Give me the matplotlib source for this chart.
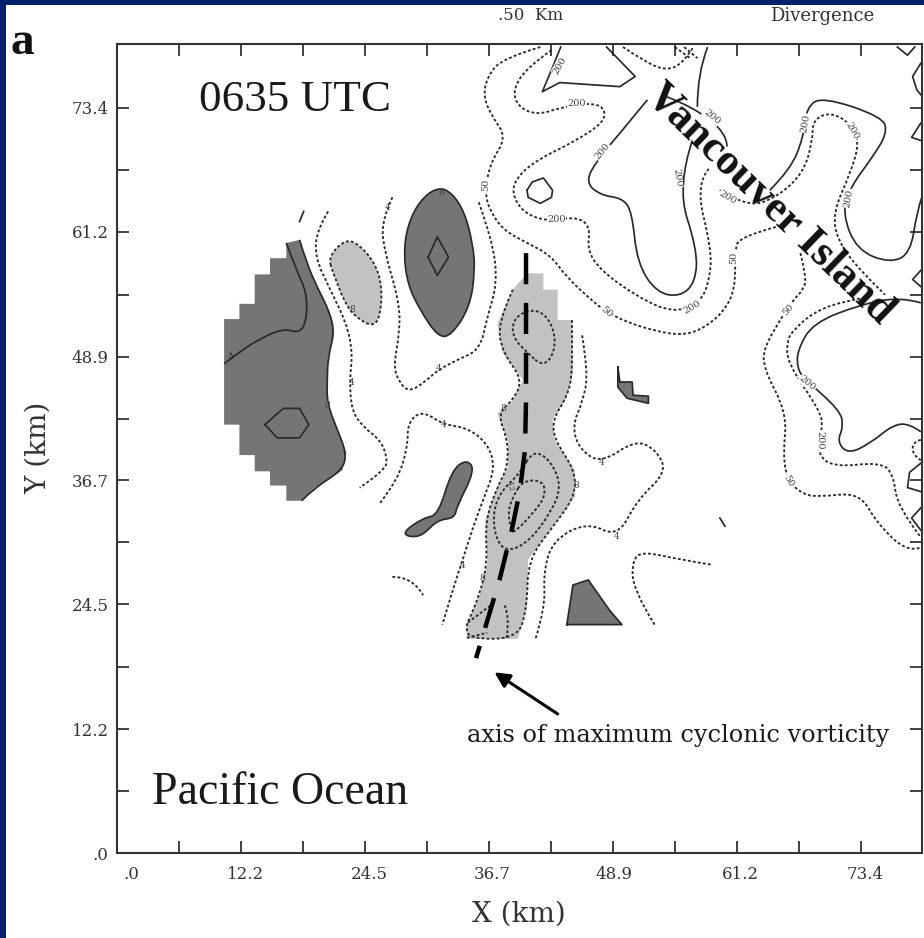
import numpy as np
import matplotlib
matplotlib.use("Agg")
import matplotlib.pyplot as plt
from matplotlib.patches import PathPatch, Rectangle
from matplotlib.path import Path
from matplotlib.transforms import ScaledTranslation

# ticks (km)
x_ticks = [0, 6.08, 12.16, 18.24, 24.32, 30.4, 36.48, 42.56, 48.64, 54.72, 60.8, 66.88, 72.96]
x_labels = [".0", "", "12.2", "", "24.5", "", "36.7", "", "48.9", "", "61.2", "", "73.4"]
y_ticks = [0, 6.1, 12.2, 18.3, 24.5, 30.6, 36.7, 42.8, 48.9, 55.0, 61.2, 67.3, 73.4]
y_labels = [".0", "", "12.2", "", "24.5", "", "36.7", "", "48.9", "", "61.2", "", "73.4"]

# shaded regions, digitised in km
dark_west = [(16.6, 60.1), (17.9, 60.4), (18.6, 58.1), (19.6, 55.8), (20.9, 53.2), (21.3, 51.2), (20.7, 48.9),
             (20.6, 46.6), (20.6, 44.3), (21.6, 41.7), (22.5, 39.4), (22.1, 37.7), (19.4, 36.0), (18.1, 34.7),
             (16.6, 34.7), (16.6, 36.2), (15.0, 36.2), (15.0, 37.6), (13.5, 37.6), (13.5, 39.2), (12.0, 39.2),
             (12.0, 40.7), (12.0, 42.2), (10.5, 42.2), (10.5, 52.6), (12.0, 52.6), (12.0, 54.1), (13.5, 54.1),
             (13.5, 57.0), (15.0, 57.0), (15.0, 58.6), (16.6, 58.6)]
dark_oval = [(28.1, 59.1), (28.5, 61.9), (29.7, 64.3), (31.4, 65.6), (32.8, 65.1), (34.1, 63.1), (34.9, 59.9),
             (35.1, 57.4), (34.6, 53.8), (32.8, 51.0), (31.5, 50.8), (29.7, 53.5), (28.5, 56.0)]
dark_mid = [(28.0, 31.6), (30.0, 33.0), (31.5, 33.3), (32.8, 37.7), (34.3, 38.8), (35.1, 37.7), (33.3, 34.1),
            (33.1, 33.0), (31.4, 32.8), (30.0, 31.3), (28.7, 31.1)]
dark_south = [(44.1, 22.5), (44.7, 26.4), (46.2, 26.9), (48.3, 23.9), (49.5, 22.5)]
dark_east = [(49.1, 47.9), (49.1, 45.9), (50.0, 44.8), (52.1, 44.3), (52.1, 45.0), (50.6, 45.1), (50.5, 46.4),
             (49.3, 46.4)]
light_oval = [(20.7, 58.7), (22.4, 60.5), (23.8, 59.9), (25.3, 58.1), (26.0, 55.8), (25.8, 52.8), (25.1, 51.9),
              (23.8, 52.5), (22.5, 53.8), (21.2, 57.1)]
light_axis = [(38.8, 55.5), (40.2, 57.1), (41.8, 57.1), (41.8, 55.5), (43.2, 55.5), (43.2, 52.5), (44.6, 52.5),
              (44.7, 47.3), (44.1, 44.9), (42.7, 42.7), (42.9, 40.7), (44.9, 37.7), (44.9, 35.1), (42.7, 32.1),
              (40.3, 28.9), (40.2, 24.2), (39.3, 21.1), (34.3, 21.1), (34.3, 22.7), (34.4, 22.7), (35.6, 25.6),
              (36.3, 28.6), (36.1, 32.8), (37.3, 36.1), (38.3, 38.0), (38.3, 40.7), (37.3, 43.3), (38.8, 44.6),
              (39.8, 46.6), (37.8, 49.3), (37.3, 52.2)]

# solid contours
solid_west = [(10.5, 48.2), (11.8, 49.2), (13.7, 50.5), (16.3, 51.7), (17.9, 51.2), (18.6, 52.5), (18.6, 55.2),
              (17.6, 57.4), (16.6, 60.1)]
solid_west_edge = dark_west[1:14]
solid_west_box = [(14.5, 42.2), (16.3, 43.8), (17.9, 43.8), (18.8, 42.2), (17.9, 40.9), (15.7, 40.9), (14.8, 41.9),
                  (14.5, 42.2)]
solid_oval_in = [(30.5, 58.7), (31.4, 60.7), (32.5, 58.7), (31.4, 56.9), (30.5, 58.7)]
solid_tick = [(17.9, 62.2), (18.3, 63.2)]
solid_speck = [(59.1, 33.0), (59.6, 32.2)]
solid_land_a = [(52.0, 74.2), (49.3, 70.9), (47.1, 68.3), (45.9, 66.1), (47.4, 64.8), (49.6, 64.5), (50.5, 63.1),
                (51.0, 58.1), (52.9, 55.2), (55.2, 54.8), (56.7, 56.2), (56.9, 59.4), (54.9, 65.6), (56.4, 70.2)]
solid_land_b = [(53.9, 74.5), (56.5, 73.5), (59.8, 70.9), (59.8, 69.6)]
solid_land_c = [(57.9, 79.4), (56.9, 76.8), (56.9, 73.5)]
solid_land_d = [(64.0, 65.3), (66.0, 67.3), (67.3, 70.5), (67.6, 73.5), (69.2, 74.5), (75.1, 72.5), (75.5, 70.9),
                (74.1, 68.6), (71.9, 65.6), (71.1, 63.1), (72.5, 59.4), (75.8, 58.1), (77.8, 59.1), (78.4, 63.1),
                (78.9, 64.6)]
solid_land_e = [(78.8, 54.2), (76.8, 54.8), (72.8, 54.0), (68.2, 52.2), (66.7, 49.5), (66.7, 47.8), (67.3, 46.8),
                (70.9, 43.6), (71.2, 42.0), (70.6, 40.5), (71.7, 39.3), (73.9, 40.4), (76.1, 42.2), (77.7, 42.3),
                (78.8, 41.5)]
solid_top_v = [(48.0, 79.4), (50.8, 76.5), (49.3, 75.5), (43.4, 75.9), (41.7, 75.0), (42.7, 77.4), (43.5, 79.4)]
solid_hex = [(40.2, 65.3), (40.7, 66.1), (41.8, 66.5), (42.7, 65.3), (42.6, 64.6), (41.5, 64.0), (40.3, 64.6),
             (40.2, 65.3)]
solid_edge_a = [(78.8, 77.8), (78.0, 76.5), (78.4, 75.2), (78.8, 74.7)]
solid_edge_b = [(78.8, 71.9), (77.9, 70.5), (78.8, 70.2)]
solid_edge_c = [(76.5, 79.4), (77.5, 78.6), (78.2, 79.4)]
solid_edge_d = [(78.8, 38.4), (77.7, 37.5), (77.5, 36.0), (78.8, 35.6)]
solid_edge_e = [(78.8, 34.0), (77.9, 33.0), (78.8, 31.8)]
solid_edge_f = [(78.8, 57.4), (78.0, 56.5), (78.8, 55.8)]

# dashed contours
dash_b = [(20.7, 63.2), (19.6, 61.4), (19.4, 58.7), (20.9, 55.5), (22.5, 52.2), (23.1, 49.3), (22.8, 46.6),
          (23.0, 43.6), (24.1, 42.0), (25.8, 40.7), (26.5, 39.0), (26.3, 37.7), (23.8, 36.0)]
dash_c = [(27.0, 64.6), (26.0, 62.4), (26.1, 59.7), (27.7, 54.2), (27.7, 51.2), (27.1, 47.9), (27.7, 46.3),
          (28.7, 45.4), (30.4, 46.6), (31.5, 47.6), (33.4, 48.6), (35.6, 49.6), (36.3, 52.8), (37.3, 56.2),
          (36.8, 60.4), (35.4, 64.3)]
dash_d = [(25.8, 34.5), (27.5, 36.7), (28.5, 40.0), (28.5, 42.4), (29.9, 43.6), (32.0, 42.2), (34.3, 41.9),
          (36.3, 40.4), (37.1, 38.0), (35.9, 34.8), (34.9, 32.1), (33.9, 28.9), (32.9, 25.9), (31.9, 22.5)]
dash_short = [(27.0, 27.2), (29.0, 27.2), (30.0, 25.4)]
dash_e = [(41.8, 47.9), (42.9, 49.3), (42.9, 51.5), (41.8, 53.3), (40.2, 53.5), (38.8, 52.5), (38.8, 50.8),
          (40.2, 49.3)]
dash_f = [(40.8, 39.7), (42.5, 38.7), (43.6, 36.1), (42.5, 33.5), (40.5, 30.8), (38.5, 29.7), (37.3, 30.5),
          (36.8, 33.1), (37.5, 35.5), (39.5, 37.4)]
dash_g = [(39.8, 36.7), (41.8, 36.7), (42.0, 35.1), (40.8, 33.5), (39.2, 31.8), (38.7, 31.6), (38.3, 33.5),
          (38.8, 35.1)]
dash_h1 = [(34.4, 22.7), (36.9, 24.6)]
dash_h2 = [(38.0, 24.4), (38.5, 23.3), (38.2, 21.2)]
dash_h3 = [(34.3, 21.2), (36.3, 21.7)]
dash_i = [(45.6, 51.0), (46.2, 47.3), (45.7, 44.6), (44.6, 42.0), (45.4, 39.7), (47.5, 38.4), (50.8, 40.7),
          (52.9, 39.7), (53.9, 37.5), (51.0, 34.8), (49.1, 31.1), (46.1, 32.6), (42.7, 30.8), (41.8, 27.6),
          (42.0, 24.2), (41.0, 21.0)]
dash_j = [(52.7, 22.5), (50.6, 25.9), (50.5, 28.9), (51.6, 29.7), (55.2, 28.9), (58.3, 28.4)]
dash_k1 = [(41.5, 79.4), (37.8, 78.3), (36.3, 76.5), (35.9, 74.5), (36.8, 72.5), (38.2, 70.5), (36.6, 68.0),
           (36.1, 65.3), (36.4, 63.6), (37.8, 61.4), (40.2, 60.1), (42.5, 58.9), (44.1, 56.7), (46.7, 54.3),
           (48.0, 53.3), (50.0, 52.3), (52.5, 51.5), (55.2, 51.0), (57.2, 51.5), (59.4, 53.2), (60.6, 55.5),
           (60.6, 59.1), (60.9, 60.7), (64.7, 61.7)]
dash_k2 = [(67.0, 59.1), (67.6, 56.7), (67.3, 55.5), (66.3, 54.5), (65.0, 52.5), (63.5, 49.9), (63.3, 47.9),
           (65.7, 43.3), (65.3, 39.4), (65.7, 36.7), (67.3, 35.3), (68.9, 35.1), (72.8, 35.5), (74.5, 32.5),
           (77.5, 29.6), (78.8, 30.1)]
dash_l1 = [(42.6, 79.1), (40.2, 77.4), (38.8, 75.2), (39.3, 73.5), (41.2, 72.7), (43.4, 73.4), (46.1, 73.9),
           (47.8, 73.5), (47.8, 72.0), (44.7, 70.0), (41.2, 68.3), (39.2, 66.6), (38.7, 65.0), (39.8, 63.1),
           (42.2, 62.2), (45.1, 62.7), (46.4, 61.7), (46.1, 59.4), (47.4, 57.4), (51.0, 54.8), (54.5, 53.2),
           (57.2, 54.2), (58.1, 56.5), (58.3, 59.4), (56.7, 66.0), (58.1, 67.5)]
dash_l2 = [(59.1, 65.3), (61.8, 63.6), (64.7, 64.6), (67.3, 67.0), (68.2, 70.2), (68.2, 72.2), (69.9, 73.0),
           (71.9, 71.9), (72.8, 70.0), (71.9, 67.0), (70.2, 63.1), (70.6, 60.4), (72.8, 57.4), (75.3, 55.0)]
dash_l3 = [(73.8, 54.8), (70.9, 54.3), (68.2, 53.2), (66.3, 51.5), (65.7, 50.5), (65.7, 48.3), (68.9, 43.6),
           (69.2, 42.0), (68.6, 39.4), (70.2, 38.0), (74.8, 38.5), (76.1, 37.4), (76.5, 34.1), (78.8, 31.1)]
dash_top = [(49.6, 79.4), (52.0, 77.8), (53.9, 77.1), (55.5, 77.8), (56.5, 79.4)]
dash_hatch_a = [(54.7, 79.4), (56.2, 78.3)]
dash_hatch_b = [(55.6, 79.4), (56.9, 78.3)]
dash_edge = [(78.8, 40.7), (78.0, 40.5), (78.0, 39.2), (78.8, 38.7)]

# axis of maximum cyclonic vorticity
axis_line = [(40.1, 59.1), (40.1, 44.6), (40.0, 39.7), (39.5, 35.7), (38.7, 31.8), (37.5, 26.9), (35.2, 19.2)]

# contour labels: x, y, rotation
labels_200 = [(43.4, 77.6, 60), (45.1, 73.8, 0), (47.6, 69.1, 50), (43.1, 62.4, 0), (58.3, 72.5, -40),
              (54.9, 66.5, -80), (59.9, 64.6, -30), (56.4, 53.8, 30), (67.5, 71.9, 80), (72.1, 71.2, -60),
              (71.7, 64.5, 80), (67.7, 46.3, -40), (68.9, 40.7, -90)]
labels_50 = [(36.1, 65.8, 90), (48.0, 53.3, -40), (60.5, 58.6, 90), (65.8, 53.5, 50), (65.8, 36.6, -60)]
labels_4 = [(26.5, 63.6), (23.0, 46.4), (31.5, 47.7), (32.0, 42.2), (33.9, 28.3), (47.5, 38.5), (49.0, 31.2)]
labels_8 = [(23.1, 53.5), (20.6, 44.1), (37.9, 43.8), (45.0, 36.2), (35.8, 27.0), (31.8, 65.1)]

navy = "#03216a"
dark_grey = "#757575"
light_grey = "#c2c2c2"
ink = "#2a2a2a"
serif = "Liberation Serif"
wide = "DejaVu Serif"

fig = plt.figure(figsize=(9.24, 9.38), dpi=100, facecolor=navy)
fig.patches.append(Rectangle((6 / 924, 0), 918 / 924, 933 / 938, transform=fig.transFigure,
                             facecolor="white", edgecolor="none", zorder=-1))
ax = fig.add_axes([117 / 924, 85 / 938, 805 / 924, 809 / 938])
ax.set_facecolor("white")
ax.set_xlim(0, 78.92)
ax.set_ylim(0, 79.7)


# read points as control points of a quadratic curve, the contours are rounded
def curve_path(pts, closed=False):
    p = np.array(pts, dtype=float)
    if closed:
        first = (p[-1] + p[0]) / 2
        verts, codes = [first], [Path.MOVETO]
        for i in range(len(p)):
            verts += [p[i], (p[i] + p[(i + 1) % len(p)]) / 2]
            codes += [Path.CURVE3, Path.CURVE3]
    else:
        verts, codes = [p[0]], [Path.MOVETO]
        for i in range(1, len(p) - 1):
            end = p[i + 1] if i == len(p) - 2 else (p[i] + p[i + 1]) / 2
            verts += [p[i], end]
            codes += [Path.CURVE3, Path.CURVE3]
        if len(p) == 2:
            verts.append(p[1])
            codes.append(Path.LINETO)
    return Path(verts, codes)


def contour(pts, closed=False, **kw):
    ax.add_patch(PathPatch(curve_path(pts, closed), fill=False, **kw))


def line(pts, **kw):
    pts = np.array(pts)
    ax.plot(pts[:, 0], pts[:, 1], **kw)


def fill(pts, color):
    pts = np.array(pts)
    ax.fill(pts[:, 0], pts[:, 1], color=color, lw=0, zorder=1)


for poly in [dark_west, dark_south, dark_east]:
    fill(poly, dark_grey)
ax.add_patch(PathPatch(curve_path(dark_oval, True), facecolor=dark_grey, edgecolor="none", zorder=1))
ax.add_patch(PathPatch(curve_path(dark_mid, True), facecolor=dark_grey, edgecolor="none", zorder=1))
ax.add_patch(PathPatch(curve_path(light_oval, True), facecolor=light_grey, edgecolor="none", zorder=1))
fill(light_axis, light_grey)

solid_kw = dict(edgecolor=ink, lw=1.25, zorder=2)
plain_kw = dict(color=ink, lw=1.25, zorder=2)
dash_kw = dict(edgecolor=ink, lw=1.35, ls=(0, (1.5, 1.2)), zorder=2)

contour(dark_oval, True, **solid_kw)
contour(dark_mid, True, **solid_kw)
for poly in [dark_south, dark_east]:
    line(poly + poly[:1], **plain_kw)
for c in [solid_west_box, solid_oval_in, solid_hex, solid_top_v, solid_edge_a, solid_edge_b, solid_edge_c,
          solid_edge_d, solid_edge_e, solid_edge_f, solid_tick, solid_speck]:
    line(c, **plain_kw)
for c in [solid_west, solid_west_edge, solid_land_a, solid_land_b, solid_land_c, solid_land_d, solid_land_e]:
    contour(c, **solid_kw)

contour(light_oval, True, **dash_kw)
contour(light_axis[6:31] + light_axis[:1], **dash_kw)
contour(dash_e, True, **dash_kw)
contour(dash_f, True, **dash_kw)
contour(dash_g, True, **dash_kw)
for c in [dash_b, dash_c, dash_d, dash_short, dash_h1, dash_h2, dash_h3, dash_i, dash_j, dash_k1, dash_k2,
          dash_l1, dash_l2, dash_l3, dash_top, dash_hatch_a, dash_hatch_b, dash_edge]:
    contour(c, **dash_kw)

line(axis_line, color="black", lw=3.2, ls=(0, (7.0, 4.2)), zorder=3, dash_capstyle="butt")

box = dict(facecolor="white", edgecolor="none", pad=0.4)
for x, y, r in labels_200:
    ax.text(x, y, "200", fontsize=7, family=wide, color="#444444", rotation=r, ha="center", va="center",
            bbox=box, zorder=4)
for x, y, r in labels_50:
    ax.text(x, y, "50", fontsize=7, family=wide, color="#444444", rotation=r, ha="center", va="center",
            bbox=box, zorder=4)
for x, y in labels_4:
    ax.text(x, y, "4", fontsize=6.5, family=wide, color="#444444", ha="center", va="center", zorder=4)
for x, y in labels_8:
    ax.text(x, y, "8", fontsize=6.5, family=wide, color="#444444", ha="center", va="center", zorder=4)
ax.text(11.3, 48.9, "-1", fontsize=6, family=wide, color="#222222", rotation=30, ha="center", va="center", zorder=4)
ax.text(38.5, 36.0, "12", fontsize=6, family=wide, color="#444444", rotation=-70, ha="center", va="center", zorder=4)

# map annotations
ax.text(8.0, 74.2, "0635 UTC", fontsize=32.5, family=serif, color="#1a1a1a", ha="left", va="center")
ax.text(3.4, 5.9, "Pacific Ocean", fontsize=33, family=serif, color="#1a1a1a", ha="left", va="center")
ax.text(34.3, 11.6, "axis of maximum cyclonic vorticity", fontsize=17.3, family=wide, color="#1a1a1a",
        ha="left", va="center")
ax.text(64.0, 64.0, "Vancouver Island", fontsize=31.5, family=serif, weight="bold", color="#111111",
        rotation=-44, rotation_mode="anchor", ha="center", va="center", zorder=5)
ax.annotate("", xy=(37.0, 17.8), xytext=(43.2, 13.7),
            arrowprops=dict(arrowstyle="-|>,head_width=0.45,head_length=0.9", color="black", lw=2.2,
                            shrinkA=0, shrinkB=0))

# axes
for s in ax.spines.values():
    s.set_linewidth(1.5)
    s.set_color("#333333")
ax.set_xticks(x_ticks, x_labels, family=wide, fontsize=12, color="#333333")
ax.set_yticks(y_ticks, y_labels, family=wide, fontsize=12, color="#333333")
ax.tick_params(axis="both", which="major", direction="in", length=8.5, width=1.3, color="#333333",
               top=True, right=True)
ax.tick_params(axis="x", pad=9)
ax.tick_params(axis="y", pad=6)
x_shift = [14, 0, 4, 0, 4, 0, 3, 0, 1, 0, 3, 0, 4]
for lab, dx in zip(ax.get_xticklabels(), x_shift):
    lab.set_transform(lab.get_transform() + ScaledTranslation(dx / 100, 0, fig.dpi_scale_trans))

fig.text(519 / 924, 1 - 914 / 938, "X (km)", fontsize=20, family=wide, color="#333333", ha="center", va="center")
fig.text(38 / 924, 1 - 448 / 938, "Y (km)", fontsize=20, family=wide, color="#333333", rotation=90,
         ha="center", va="center")
fig.text(531 / 924, 1 - 16 / 938, ".50  Km", fontsize=12, family=wide, color="#333333", ha="center", va="center")
fig.text(822 / 924, 1 - 16 / 938, "Divergence", fontsize=13, family=wide, color="#333333", ha="center", va="center")
fig.text(10 / 924, 1 - 43 / 938, "a", fontsize=34, family=serif, weight="bold", color="#111111",
         ha="left", va="center")

fig.savefig("out.png", dpi=100, facecolor=fig.get_facecolor())
